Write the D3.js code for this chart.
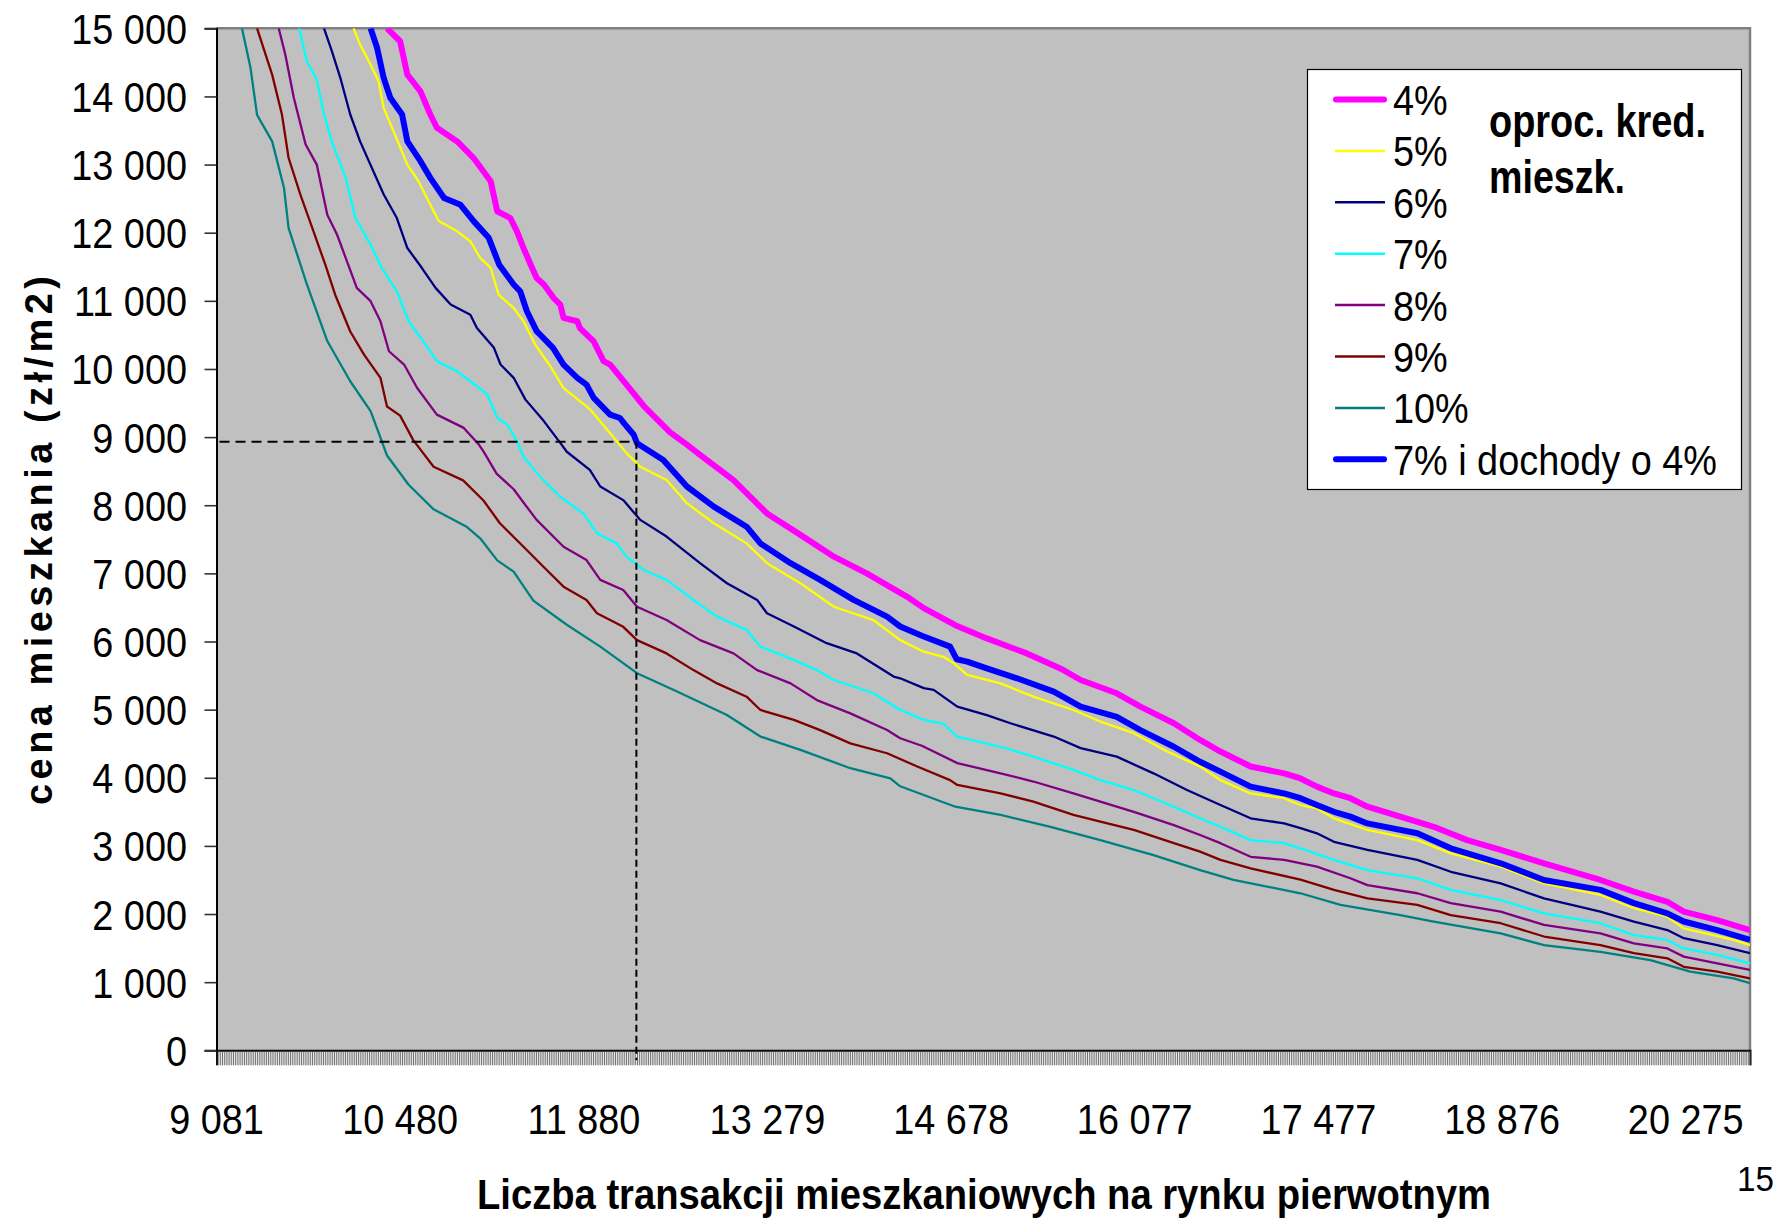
<!DOCTYPE html>
<html>
<head>
<meta charset="utf-8">
<script src="https://cdn.jsdelivr.net/npm/d3@7"></script>
<style>
  body { margin: 0; background: #fff; }
  svg { display: block; }
  text { font-family: "Liberation Sans", Arial, sans-serif; fill: #000; }
</style>
</head>
<body>
<svg id="chart" width="1774" height="1222"></svg>
<script>
'use strict';

// --- data: [transactions, price zł/m2] ---
const rate4 = [[10380,15000],[10480,14810],[10535,14320],[10635,14075],[10710,13735],[10760,13540],[10915,13340],[11040,13095],[11170,12755],[11220,12315],[11320,12215],[11370,12020],[11420,11775],[11475,11530],[11520,11335],[11575,11240],[11650,11040],[11700,10945],[11725,10750],[11830,10700],[11850,10600],[11955,10405],[12030,10115],[12080,10065],[12205,9770],[12335,9460],[12537,9070],[12665,8890],[12765,8740],[13020,8370],[13275,7880],[13530,7565],[13785,7245],[14035,7000],[14340,6660],[14470,6490],[14710,6240],[14950,6045],[15255,5825],[15510,5605],[15665,5435],[15940,5240],[16120,5045],[16375,4800],[16575,4555],[16730,4385],[16960,4165],[17215,4065],[17340,3990],[17465,3870],[17595,3770],[17720,3700],[17850,3575],[18100,3430],[18355,3280],[18610,3085],[18865,2940],[19195,2745],[19625,2500],[19880,2330],[20135,2180],[20260,2035],[20515,1910],[20765,1765]];
const rate5 = [[10125,15000],[10175,14760],[10255,14465],[10315,14225],[10355,13830],[10430,13490],[10535,13000],[10620,12755],[10710,12410],[10775,12170],[10915,12020],[11015,11875],[11090,11630],[11170,11485],[11230,11090],[11345,10895],[11420,10700],[11510,10355],[11625,10040],[11725,9720],[11900,9450],[11930,9400],[12005,9230],[12080,9056],[12205,8765],[12310,8565],[12510,8370],[12665,8030],[12870,7735],[13120,7440],[13275,7150],[13530,6855],[13785,6510],[14085,6315],[14290,6020],[14470,5850],[14620,5775],[14700,5680],[14800,5510],[15055,5385],[15305,5190],[15610,4995],[15815,4825],[16070,4655],[16325,4385],[16575,4165],[16730,3965],[16960,3770],[17215,3700],[17340,3600],[17465,3550],[17595,3405],[17850,3235],[18230,3085],[18485,2890],[18865,2695],[19195,2450],[19625,2280],[19880,2085],[20135,1960],[20260,1790],[20640,1620],[20765,1545]];
const rate6 = [[9900,15000],[9960,14665],[10025,14270],[10100,13735],[10175,13340],[10265,12950],[10355,12560],[10455,12215],[10535,11775],[10645,11485],[10750,11190],[10865,10945],[11015,10795],[11065,10600],[11195,10310],[11245,10065],[11345,9870],[11435,9550],[11575,9235],[11700,8915],[11750,8785],[11925,8520],[12005,8275],[12180,8075],[12310,7785],[12510,7540],[12765,7150],[12970,6855],[13200,6610],[13275,6415],[13480,6220],[13730,5975],[13960,5825],[14240,5485],[14290,5460],[14470,5315],[14545,5290],[14725,5045],[14950,4920],[15130,4800],[15460,4605],[15665,4435],[15940,4310],[16220,4065],[16475,3820],[16730,3600],[16960,3405],[17215,3330],[17340,3260],[17465,3185],[17595,3060],[17850,2940],[18230,2795],[18485,2620],[18865,2450],[19195,2230],[19625,2035],[19880,1890],[20135,1765],[20260,1645],[20515,1545],[20765,1425]];
const rate7 = [[9710,15000],[9770,14515],[9845,14245],[9900,13735],[9960,13340],[10065,12805],[10140,12215],[10255,11825],[10340,11485],[10455,11140],[10545,10700],[10675,10355],[10760,10115],[10915,9965],[11015,9820],[11145,9625],[11220,9280],[11295,9185],[11370,8940],[11420,8715],[11545,8420],[11700,8125],[11875,7880],[11980,7590],[12130,7440],[12205,7245],[12335,7050],[12510,6905],[12715,6610],[12895,6365],[13120,6170],[13225,5925],[13480,5730],[13655,5580],[13785,5435],[14085,5240],[14290,4995],[14470,4850],[14620,4790],[14725,4605],[15055,4455],[15305,4310],[15610,4115],[15815,3965],[16070,3820],[16375,3575],[16575,3405],[16730,3280],[16960,3085],[17215,3040],[17340,2965],[17595,2795],[17850,2645],[18230,2525],[18485,2355],[18865,2205],[19195,2010],[19625,1865],[19880,1690],[20135,1620],[20260,1495],[20515,1400],[20765,1275]];
const rate8 = [[9555,15000],[9605,14615],[9670,13980],[9760,13295],[9845,13000],[9925,12265],[10000,11970],[10075,11580],[10150,11190],[10255,10995],[10330,10700],[10395,10260],[10510,10065],[10610,9720],[10760,9330],[10965,9135],[11080,8890],[11115,8790],[11215,8465],[11345,8235],[11420,8040],[11520,7785],[11725,7390],[11900,7195],[12005,6905],[12180,6755],[12285,6510],[12510,6315],[12765,6020],[13020,5825],[13200,5580],[13455,5385],[13655,5140],[13910,4945],[14190,4700],[14290,4580],[14455,4470],[14725,4215],[15055,4065],[15305,3945],[15610,3770],[15815,3650],[16070,3500],[16375,3305],[16575,3160],[16730,3040],[16960,2840],[17215,2795],[17465,2695],[17720,2525],[17850,2425],[18230,2305],[18485,2160],[18865,2035],[19195,1840],[19625,1715],[19880,1570],[20135,1495],[20260,1375],[20515,1275],[20765,1180]];
const rate9 = [[9390,15000],[9505,14320],[9580,13730],[9630,13100],[9720,12560],[9820,12020],[9910,11530],[9985,11090],[10100,10550],[10205,10210],[10330,9870],[10380,9450],[10480,9315],[10580,8955],[10735,8565],[10960,8365],[11115,8070],[11240,7735],[11420,7390],[11570,7100],[11725,6805],[11900,6610],[11980,6415],[12180,6215],[12285,6020],[12510,5825],[12715,5580],[12895,5385],[13120,5190],[13225,4995],[13480,4850],[13680,4700],[13910,4505],[14190,4360],[14420,4165],[14670,3965],[14725,3895],[15055,3770],[15305,3650],[15610,3455],[15815,3355],[16070,3235],[16375,3040],[16575,2915],[16730,2795],[16960,2670],[17340,2505],[17595,2355],[17850,2230],[18230,2135],[18485,1985],[18865,1865],[19195,1670],[19625,1545],[19880,1425],[20135,1350],[20260,1225],[20515,1155],[20765,1055]];
const rate10 = [[9275,15000],[9340,14420],[9390,13730],[9505,13340],[9595,12660],[9630,12070],[9770,11240],[9925,10410],[10100,9820],[10255,9380],[10340,8940],[10380,8730],[10545,8300],[10735,7940],[10990,7680],[11090,7515],[11220,7190],[11345,7025],[11495,6600],[11750,6245],[12005,5925],[12285,5535],[12590,5265],[12970,4920],[13225,4605],[13530,4410],[13910,4140],[14215,3990],[14290,3875],[14710,3575],[15055,3455],[15435,3280],[15815,3085],[16220,2865],[16575,2645],[16830,2500],[17340,2305],[17645,2135],[18100,1985],[18355,1890],[18865,1715],[19195,1545],[19625,1445],[20005,1325],[20310,1155],[20640,1055],[20765,985]];
const rate7inc4 = [[10255,15000],[10305,14710],[10355,14270],[10405,13980],[10495,13735],[10535,13340],[10635,13050],[10710,12805],[10815,12510],[10940,12410],[11040,12170],[11155,11925],[11235,11530],[11345,11240],[11395,11140],[11445,10850],[11520,10555],[11645,10310],[11725,10065],[11830,9870],[11900,9770],[11955,9575],[12080,9330],[12155,9280],[12185,9205],[12260,9035],[12285,8910],[12485,8665],[12665,8275],[12870,7980],[13120,7685],[13225,7440],[13455,7150],[13680,6905],[13935,6610],[14190,6365],[14290,6220],[14455,6085],[14670,5925],[14720,5740],[14800,5705],[14950,5605],[15180,5460],[15460,5265],[15665,5045],[15940,4895],[16120,4700],[16375,4455],[16575,4235],[16730,4090],[16960,3870],[17215,3770],[17340,3700],[17465,3600],[17595,3500],[17720,3430],[17850,3330],[18230,3185],[18485,2965],[18865,2745],[19195,2500],[19625,2355],[19880,2160],[20135,2010],[20260,1890],[20515,1765],[20765,1620]];

const seriesNames = ['4%', '5%', '6%', '7%', '8%', '9%', '10%', '7% i dochody o 4%'];
const seriesData = [rate4, rate5, rate6, rate7, rate8, rate9, rate10, rate7inc4];

const xTickLabels = [9081, 10480, 11880, 13279, 14678, 16077, 17477, 18876, 20275];
const yTickValues = [0, 1000, 2000, 3000, 4000, 5000, 6000, 7000, 8000, 9000, 10000, 11000, 12000, 13000, 14000, 15000];
const refPoint = [12280, 8930];   // dashed guide lines

// --- styles ---
const colors = ['#ff00ff', '#ffff00', '#000080', '#00ffff', '#800080', '#800000', '#008080', '#0000ff'];
const widths = [6, 2.3, 2.3, 2.3, 2.3, 2.3, 2.3, 6];

const plot = { left: 216.5, right: 1750, top: 28.3, bottom: 1050.3 };
const categoriesPerLabel = 100;
const categoryCount = 836;

const fmt = v => String(v).replace(/\B(?=(\d{3})+(?!\d))/g, ' ');

const svg = d3.select('#chart');

const catStep = (xTickLabels[xTickLabels.length - 1] - xTickLabels[0]) / ((xTickLabels.length - 1) * categoriesPerLabel);
const x = d3.scaleLinear()
  .domain([xTickLabels[0], xTickLabels[0] + (categoryCount - 1) * catStep])
  .range([plot.left, plot.right]);
const y = d3.scaleLinear().domain([0, 15000]).range([plot.bottom, plot.top]);

// plot background
svg.append('rect')
  .attr('x', plot.left).attr('y', plot.top)
  .attr('width', plot.right - plot.left).attr('height', plot.bottom - plot.top)
  .attr('fill', '#c0c0c0');

svg.append('defs').append('clipPath').attr('id', 'clip')
  .append('rect')
  .attr('x', plot.left).attr('y', plot.top)
  .attr('width', plot.right - plot.left).attr('height', plot.bottom - plot.top);

// gray frame top / right
svg.append('path')
  .attr('d', `M${plot.left},${plot.top}H${plot.right}V${plot.bottom}`)
  .attr('fill', 'none').attr('stroke', '#808080').attr('stroke-width', 2.5);

// y axis
const yAxis = svg.append('g')
  .attr('transform', `translate(${plot.left},0)`)
  .call(d3.axisLeft(y).tickValues(yTickValues).tickSize(12).tickFormat(''));
yAxis.select('.domain').attr('stroke', '#000').attr('stroke-width', 2);
yAxis.selectAll('.tick line').attr('stroke', '#333').attr('stroke-width', 1.6);

// text helper: horizontally condensed text
function condensed(parent, tx, ty, str, size, anchor, sx) {
  const g = parent.append('g').attr('transform', `translate(${tx},${ty}) scale(${sx},1)`);
  g.append('text').attr('text-anchor', anchor).attr('font-size', size).text(str);
  return g;
}

yTickValues.forEach(v => {
  condensed(svg, 187, y(v) + 15.5, fmt(v), 43, 'end', 0.88);
});

// x axis: a tick for every category
const xAxis = svg.append('g')
  .attr('transform', `translate(0,${plot.bottom})`)
  .call(d3.axisBottom(x)
    .tickValues(d3.range(categoryCount).map(i => xTickLabels[0] + i * catStep))
    .tickSize(15).tickFormat(''));
xAxis.select('.domain').attr('stroke', '#000').attr('stroke-width', 2);
xAxis.selectAll('.tick line').attr('stroke', '#333').attr('stroke-width', 0.7);

xTickLabels.forEach(v => {
  condensed(svg, x(v), 1133.5, fmt(v), 43, 'middle', 0.88);
});

// series
const line = d3.line().x(d => x(d[0])).y(d => y(d[1]));
const lines = svg.append('g').attr('clip-path', 'url(#clip)');
seriesData.forEach((data, i) => {
  lines.append('path')
    .datum(data)
    .attr('d', line)
    .attr('fill', 'none')
    .attr('stroke', colors[i])
    .attr('stroke-width', widths[i])
    .attr('stroke-linejoin', 'round');
});

// dashed guide lines
svg.append('line')
  .attr('x1', plot.left + 3).attr('x2', x(refPoint[0]))
  .attr('y1', y(refPoint[1])).attr('y2', y(refPoint[1]))
  .attr('stroke', '#000').attr('stroke-width', 2).attr('stroke-dasharray', '10,6');
svg.append('line')
  .attr('x1', x(refPoint[0])).attr('x2', x(refPoint[0]))
  .attr('y1', y(refPoint[1])).attr('y2', plot.bottom + 10)
  .attr('stroke', '#000').attr('stroke-width', 2).attr('stroke-dasharray', '7,4');

// legend
const legend = svg.append('g');
legend.append('rect')
  .attr('x', 1307.5).attr('y', 69.5).attr('width', 434).attr('height', 420)
  .attr('fill', '#fff').attr('stroke', '#000').attr('stroke-width', 1.2);

seriesNames.forEach((name, i) => {
  const cy = 99.5 + i * 51.4;
  const thick = widths[i] > 4;
  legend.append('line')
    .attr('x1', thick ? 1336 : 1335).attr('x2', thick ? 1384 : 1385)
    .attr('y1', cy).attr('y2', cy)
    .attr('stroke', colors[i]).attr('stroke-width', thick ? 6 : 2.5)
    .attr('stroke-linecap', thick ? 'round' : 'butt');
  condensed(legend, 1393, cy + 15.5, name, 43, 'start', 0.88);
});

legend.append('text')
  .attr('x', 1489).attr('y', 137)
  .attr('font-size', 46).attr('font-weight', 'bold')
  .attr('textLength', 217).attr('lengthAdjust', 'spacingAndGlyphs')
  .text('oproc. kred.');
legend.append('text')
  .attr('x', 1489).attr('y', 193)
  .attr('font-size', 46).attr('font-weight', 'bold')
  .attr('textLength', 136).attr('lengthAdjust', 'spacingAndGlyphs')
  .text('mieszk.');

// axis titles
svg.append('text')
  .attr('x', 477).attr('y', 1209)
  .attr('font-size', 42).attr('font-weight', 'bold')
  .attr('textLength', 1014).attr('lengthAdjust', 'spacingAndGlyphs')
  .text('Liczba transakcji mieszkaniowych na rynku pierwotnym');

svg.append('text')
  .attr('transform', 'translate(52,805) rotate(-90)')
  .attr('font-size', 38).attr('font-weight', 'bold')
  .attr('textLength', 529).attr('lengthAdjust', 'spacing')
  .text('cena mieszkania (zł/m2)');

// page number
condensed(svg, 1737, 1191, '15', 35, 'start', 0.95);
</script>
</body>
</html>
